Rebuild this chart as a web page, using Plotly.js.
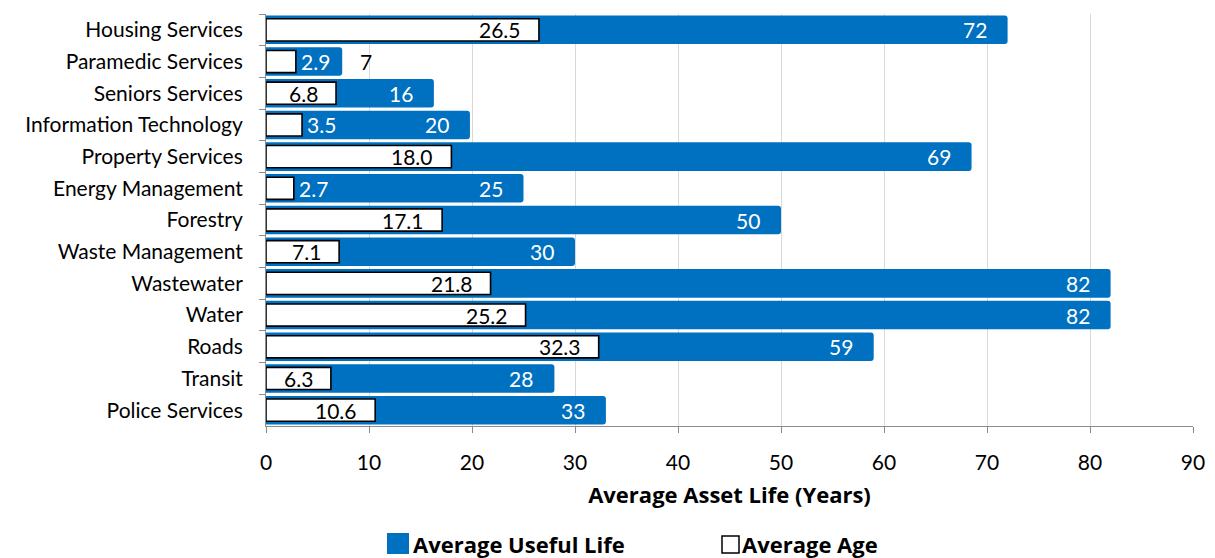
<!DOCTYPE html>
<html><head><meta charset="utf-8">
<script src="https://cdn.plot.ly/plotly-3.0.1.min.js"></script>
<style>html,body{margin:0;padding:0;background:#fff}#chart{width:1215px;height:558px}</style>
</head><body><div id="chart"></div>
<script>
const categories = ["Housing Services","Paramedic Services","Seniors Services","Information Technology","Property Services","Energy Management","Forestry","Waste Management","Wastewater","Water","Roads","Transit","Police Services"];
const usefulLife = [72, 7.4, 16.3, 19.8, 68.5, 25, 50, 30, 82, 82, 59, 28, 33];
const usefulLifeLabels = ["72","7","16","20","69","25","50","30","82","82","59","28","33"];
const averageAge = [26.5, 2.9, 6.8, 3.5, 18.0, 2.7, 17.1, 7.1, 21.8, 25.2, 32.3, 6.3, 10.6];
const xTicks = [0,10,20,30,40,50,60,70,80,90];
const seriesNames = ["Average Useful Life", "Average Age"];

const FONT = "Lato, 'Open Sans', sans-serif";
const BOLD = "'Open Sans', Lato, sans-serif";
const FS = 21;
const BFS = 22;
const BLUE = "#0070C0";

const traces = [
  {type:'bar', orientation:'h', name:seriesNames[0], y:categories, x:usefulLife,
   width:0.9, marker:{color:BLUE, cornerradius:3}, hoverinfo:'x+y'},
  {type:'bar', orientation:'h', name:seriesNames[1], y:categories, x:averageAge,
   width:0.7, marker:{color:'#ffffff', line:{color:'#000000', width:1.6}}, hoverinfo:'x+y'}
];

const annotations = [];
categories.forEach((c,i)=>{
  const v = usefulLife[i];
  if (v < 10) {
    annotations.push({x:v, y:c, text:usefulLifeLabels[i], showarrow:false, xanchor:'left', xshift:16, font:{family:FONT,size:FS,color:'#000'}});
  } else {
    annotations.push({x:v, y:c, text:usefulLifeLabels[i], showarrow:false, xanchor:'right', xshift:-19, font:{family:FONT,size:FS,color:'#fff'}});
  }
  const a = averageAge[i];
  const t = a.toFixed(1);
  if (a < 5) {
    annotations.push({x:a, y:c, text:t, showarrow:false, xanchor:'left', xshift:3, font:{family:FONT,size:FS,color:'#fff'}});
  } else {
    annotations.push({x:a, y:c, text:t, showarrow:false, xanchor:'right', xshift:-16, font:{family:FONT,size:FS,color:'#000'}});
  }
});

// legend (drawn manually to match the large swatches)
annotations.push({xref:'paper', yref:'paper', x:(411-266)/927, y:-(544-426)/412, xanchor:'left', yanchor:'middle',
  text:seriesNames[0], showarrow:false, font:{family:BOLD,size:BFS,weight:'bold',color:'#000'}});
annotations.push({xref:'paper', yref:'paper', x:(740-266)/927, y:-(544-426)/412, xanchor:'left', yanchor:'middle',
  text:seriesNames[1], showarrow:false, font:{family:BOLD,size:BFS,weight:'bold',color:'#000'}});
const shapes = [
  {type:'rect', xref:'paper', yref:'paper', x0:(387-266)/927, x1:(409-266)/927, y0:-(533-426)/412, y1:-(554-426)/412,
   fillcolor:BLUE, line:{width:0}, layer:'above'},
  {type:'rect', xref:'paper', yref:'paper', x0:(722-266)/927, x1:(739-266)/927, y0:-(536-426)/412, y1:-(553-426)/412,
   fillcolor:'#fff', line:{color:'#000', width:1.5}, layer:'above'}
];

const layout = {
  width:1215, height:558,
  margin:{l:266, r:22, t:14, b:132},
  paper_bgcolor:'#fff', plot_bgcolor:'#fff',
  barmode:'overlay',
  font:{family:FONT, size:FS, color:'#000'},
  showlegend:false,
  xaxis:{range:[0,90], tickvals:xTicks, ticktext:xTicks.map(String), showgrid:true, gridcolor:'#d9d9d9', gridwidth:1,
         zeroline:false, showline:true, linecolor:'#8c8c8c', linewidth:1, ticks:'outside', ticklen:6, tickcolor:'#8c8c8c',
         tickfont:{family:FONT,size:FS,color:'#000'}, ticklabelstandoff:12, automargin:false,
         title:{text:'Average Asset Life (Years)', font:{family:BOLD,size:BFS,weight:'bold',color:'#000'}, standoff:14}},
  yaxis:{type:'category', autorange:'reversed', showline:true, linecolor:'#8c8c8c', linewidth:1, ticks:'outside', tickson:'boundaries',
         ticklen:6, tickcolor:'#8c8c8c', showgrid:false, tickfont:{family:FONT,size:FS,color:'#000'}, ticklabelstandoff:18, automargin:false},
  annotations:annotations,
  shapes:shapes
};
Plotly.newPlot('chart', traces, layout, {displayModeBar:false, staticPlot:true});
</script></body></html>
